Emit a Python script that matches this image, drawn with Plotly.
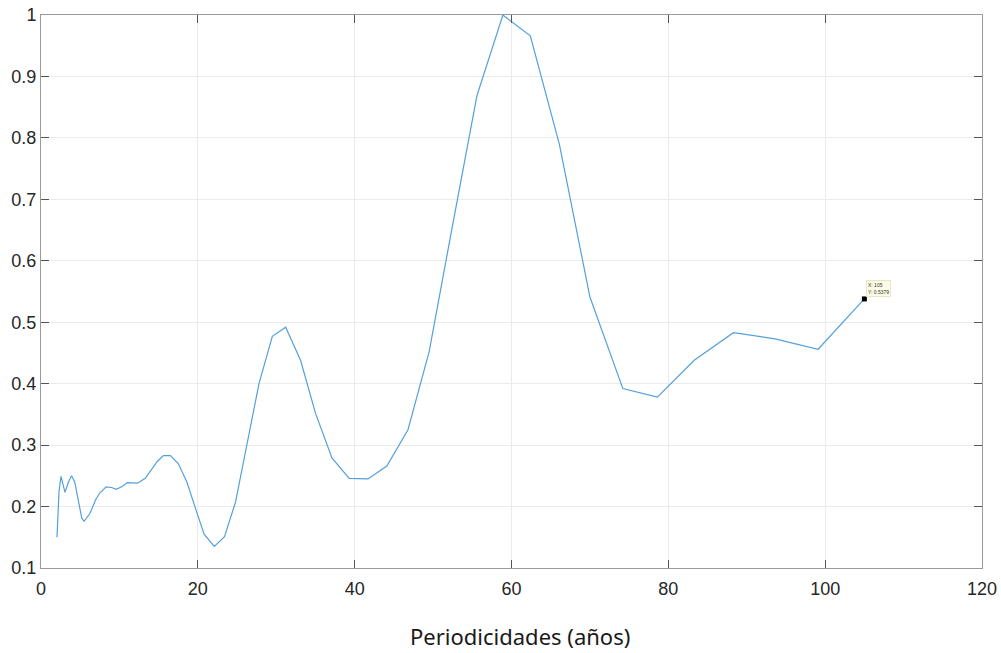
import plotly.graph_objects as go

# Periods (years) and normalised power
periods = [2.04, 2.3, 2.55, 2.8, 3.06, 3.5, 3.9, 4.3, 4.8, 5.2, 5.5, 6.25, 7.0, 7.5,
           8.3, 9.0, 9.6, 10.4, 11.0, 12.3, 13.3, 14.0, 14.8, 15.6, 16.5, 17.5, 18.6,
           19.7, 20.8, 22.1, 23.4, 24.8, 26.2, 27.8, 29.5, 31.2, 33.1, 35.0, 37.1,
           39.3, 41.7, 44.1, 46.8, 49.5, 52.5, 55.6, 58.9, 62.4, 66.1, 70.0, 74.2,
           78.6, 83.3, 88.3, 93.6, 99.1, 105.0]
power = [0.150, 0.225, 0.249, 0.238, 0.223, 0.240, 0.250, 0.240, 0.208, 0.181, 0.176,
         0.189, 0.212, 0.222, 0.232, 0.231, 0.228, 0.233, 0.239, 0.238, 0.246, 0.258,
         0.273, 0.283, 0.283, 0.270, 0.240, 0.197, 0.155, 0.135, 0.151, 0.207, 0.300,
         0.400, 0.477, 0.492, 0.438, 0.352, 0.279, 0.246, 0.245, 0.266, 0.325, 0.452,
         0.659, 0.869, 1.000, 0.966, 0.790, 0.541, 0.392, 0.378, 0.438, 0.483, 0.473,
         0.456, 0.5379]

x_ticks = [0, 20, 40, 60, 80, 100, 120]
y_ticks = [0.1, 0.2, 0.3, 0.4, 0.5, 0.6, 0.7, 0.8, 0.9, 1.0]
y_tick_labels = ["0.1", "0.2", "0.3", "0.4", "0.5", "0.6", "0.7", "0.8", "0.9", "1"]
tip_x, tip_y = periods[-1], power[-1]

fig = go.Figure()
fig.add_trace(go.Scatter(x=periods, y=power, mode="lines",
                         line=dict(color="#54a0dc", width=1.2), hoverinfo="skip"))
fig.add_trace(go.Scatter(x=[tip_x], y=[tip_y], mode="markers",
                         marker=dict(symbol="square", size=5, color="black"),
                         hoverinfo="skip"))

fig.add_annotation(x=tip_x, y=tip_y, xref="x", yref="y",
                   text="X: 105<br>Y: 0.5379", showarrow=False,
                   xanchor="left", yanchor="bottom", xshift=2, yshift=2,
                   align="left", font=dict(size=5, color="#333333", family="Liberation Sans"),
                   bgcolor="#fbfbe6", bordercolor="#e8e8c8", borderwidth=1, borderpad=1)

fig.add_annotation(x=0.5, y=0, xref="paper", yref="paper", yanchor="middle",
                   yshift=-68, xshift=8, showarrow=False,
                   text="Periodicidades (años)",
                   font=dict(size=22, color="#1a1a1a", family="Noto Sans"))

axis_common = dict(showline=True, linecolor="#9a9a9a", linewidth=1, mirror="ticks",
                   ticks="inside", ticklen=8, tickcolor="#555555", tickwidth=1,
                   showgrid=True, gridcolor="#ebebeb", gridwidth=1, zeroline=False,
                   automargin=False,
                   tickfont=dict(size=18, color="#262626", family="Liberation Sans"))

fig.update_xaxes(range=[0, 120], tickvals=x_ticks, ticklabelstandoff=4, **axis_common)
fig.update_yaxes(range=[0.1, 1.0], tickvals=y_ticks, ticktext=y_tick_labels, **axis_common)

fig.update_layout(width=1001, height=653, showlegend=False,
                  plot_bgcolor="white", paper_bgcolor="white",
                  margin=dict(l=41, r=19, t=15, b=85, autoexpand=False))

fig.write_html("out.html")
